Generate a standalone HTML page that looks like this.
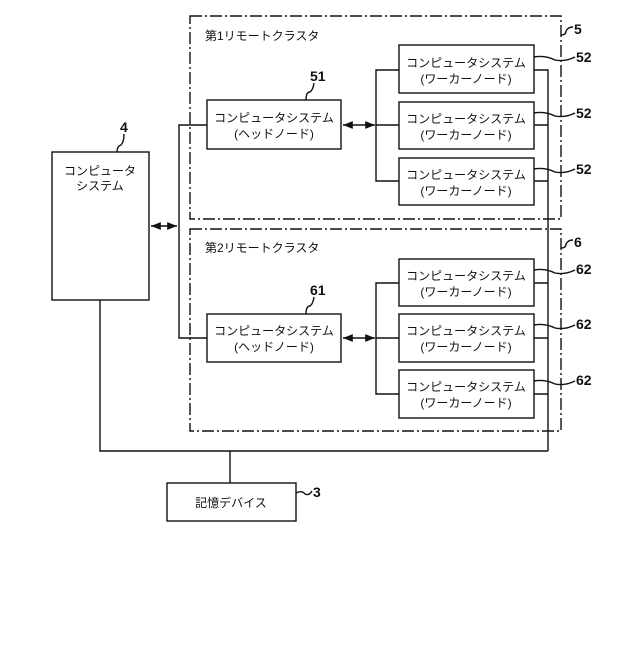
<!DOCTYPE html>
<html><head><meta charset="utf-8"><style>
body{margin:0;background:#fff}
svg text{font-family:"Liberation Sans","Noto Sans CJK JP",sans-serif;fill:#111}
</style></head><body>
<svg width="640" height="640" viewBox="0 0 640 640" xmlns="http://www.w3.org/2000/svg">
<defs><marker id="a" viewBox="0 0 10 10" refX="10" refY="5" markerWidth="7" markerHeight="7" orient="auto-start-reverse"><path d="M0,1 L10,5 L0,9 z" fill="#111"/></marker></defs>
<g fill="none" stroke="#111" stroke-width="1.4">
<rect x="190" y="16" width="371" height="203" stroke-dasharray="12,3,2,3"/>
<rect x="190" y="229" width="371" height="202" stroke-dasharray="12,3,2,3"/>
<rect x="52" y="152" width="97" height="148"/>
<rect x="167" y="483" width="129" height="38"/>
<rect x="207" y="100" width="134" height="49"/>
<rect x="207" y="314" width="134" height="48"/>
<rect x="399" y="45" width="135" height="48"/>
<rect x="399" y="102" width="135" height="47"/>
<rect x="399" y="158" width="135" height="47"/>
<rect x="399" y="259" width="135" height="47"/>
<rect x="399" y="314" width="135" height="48"/>
<rect x="399" y="370" width="135" height="48"/>
<line x1="151" y1="226" x2="177" y2="226" marker-start="url(#a)" marker-end="url(#a)"/>
<path d="M207,125 H179 V338 H207"/>
<line x1="343" y1="125" x2="375" y2="125" marker-start="url(#a)" marker-end="url(#a)"/>
<line x1="343" y1="338" x2="375" y2="338" marker-start="url(#a)" marker-end="url(#a)"/>
<path d="M399,70 H376 V181 H399 M376,125 H399"/>
<path d="M399,283 H376 V394 H399 M376,338 H399"/>
<path d="M534,70 H548 V451 M534,125 H548 M534,181 H548 M534,283 H548 M534,338 H548 M534,394 H548"/>
<path d="M100,300 V451 H548 M230,451 V483"/>
<path d="M561,35 Q566,35 566,31 Q568,27 573,27" />
<path d="M534,57 Q545,55 555,60 Q565,62 575,57"/>
<path d="M534,113 Q545,111 555,116 Q565,118 575,113"/>
<path d="M534,169 Q545,167 555,172 Q565,174 575,169"/>
<path d="M561,248 Q566,248 566,244 Q568,240 573,240"/>
<path d="M534,270 Q545,268 555,273 Q565,275 575,270"/>
<path d="M534,325 Q545,323 555,328 Q565,330 575,325"/>
<path d="M534,381 Q545,379 555,384 Q565,386 575,381"/>
<path d="M306,100 Q306,92 310,92 Q313,90 314,83"/>
<path d="M306,314 Q306,306 310,306 Q313,304 314,297"/>
<path d="M117,152 Q117,146 121,145 Q124,142 124,134"/>
<path d="M296,493 Q302,490 305,494 Q309,496 312,491"/>
</g>
<g font-size="12">
<text x="205" y="40">第1リモートクラスタ</text>
<text x="205" y="252">第2リモートクラスタ</text>
<text x="100" y="175" text-anchor="middle">コンピュータ</text>
<text x="100" y="190" text-anchor="middle">システム</text>
<text x="231" y="507" text-anchor="middle">記憶デバイス</text>
<g text-anchor="middle">
<text x="274" y="122">コンピュータシステム</text><text x="274" y="138">(ヘッドノード)</text>
<text x="274" y="335">コンピュータシステム</text><text x="274" y="351">(ヘッドノード)</text>
<text x="466" y="67">コンピュータシステム</text><text x="466" y="83">(ワーカーノード)</text>
<text x="466" y="123">コンピュータシステム</text><text x="466" y="139">(ワーカーノード)</text>
<text x="466" y="179">コンピュータシステム</text><text x="466" y="195">(ワーカーノード)</text>
<text x="466" y="280">コンピュータシステム</text><text x="466" y="296">(ワーカーノード)</text>
<text x="466" y="335">コンピュータシステム</text><text x="466" y="351">(ワーカーノード)</text>
<text x="466" y="391">コンピュータシステム</text><text x="466" y="407">(ワーカーノード)</text>
</g>
</g>
<g font-size="14" font-weight="bold">
<text x="574" y="34">5</text><text x="574" y="247">6</text>
<text x="576" y="62">52</text><text x="576" y="118">52</text><text x="576" y="174">52</text>
<text x="576" y="274">62</text><text x="576" y="329">62</text><text x="576" y="385">62</text>
<text x="310" y="81">51</text><text x="310" y="295">61</text>
<text x="120" y="132">4</text><text x="313" y="497">3</text>
</g>
</svg>
</body></html>
